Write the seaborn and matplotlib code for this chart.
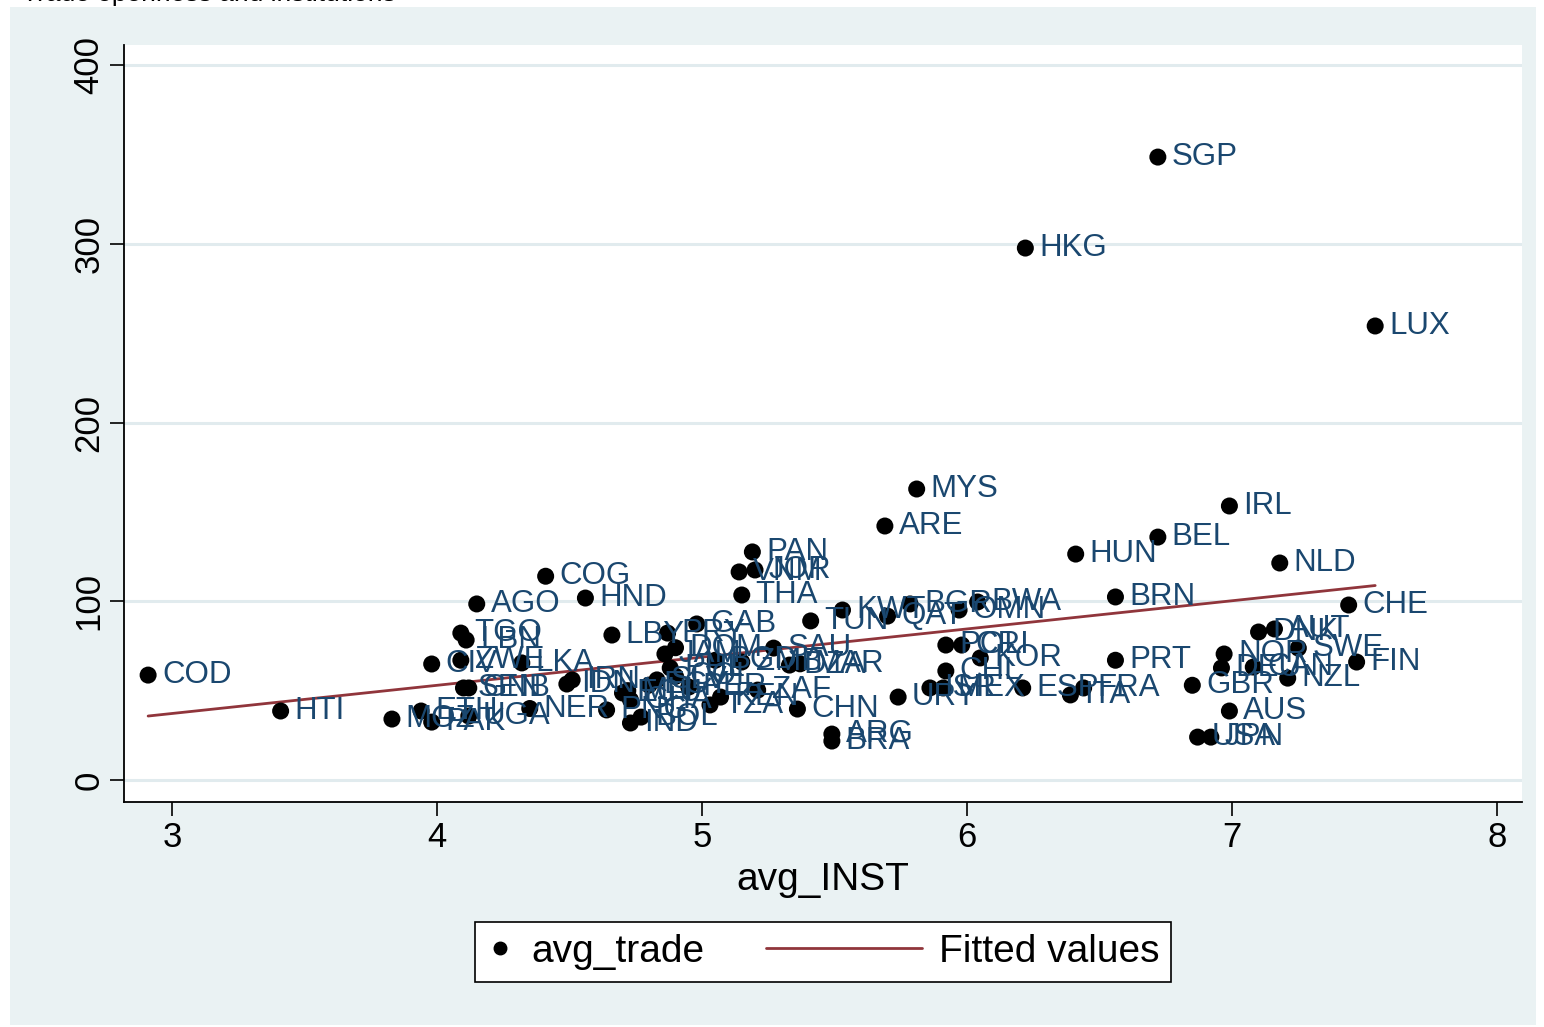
import numpy as np
import pandas as pd
import matplotlib
matplotlib.use("Agg")
import matplotlib.pyplot as plt
import seaborn as sns
from matplotlib.patches import Rectangle
from matplotlib.lines import Line2D
from matplotlib.legend_handler import HandlerLine2D

# ---- data ----
countries = ["COD", "HTI", "MOZ", "ETH", "PAK", "UGA", "SEN", "GNB", "CIV", "ZWE",
             "LKA", "TGO", "LBN", "AGO", "COG", "HND", "NER", "IDN", "IRN", "LBY",
             "PRY", "GAB", "JAM", "DOM", "PHL", "EGY", "GHA", "PNG", "IND", "BOL",
             "ECU", "PER", "SLV", "MLI", "COL", "TZA", "KEN", "ZAF", "SAU", "DZA",
             "MAR", "BGD", "ZMB", "CHN", "ARG", "BRA", "URY", "ISR", "MEX", "CHL",
             "POL", "CRI", "KOR", "ESP", "ITA", "FRA", "PRT", "GBR", "AUS", "USA",
             "JPN", "NOR", "DEU", "CAN", "DNK", "AUT", "SWE", "NZL", "FIN", "CHE",
             "NLD", "IRL", "BEL", "HUN", "BRN", "SGP", "HKG", "LUX", "MYS", "ARE",
             "PAN", "VNM", "JOR", "THA", "TUN", "KWT", "QAT", "BGR", "OMN", "BWA"]
avg_inst = [2.91, 3.41, 3.83, 3.94, 3.98, 4.12, 4.10, 4.12, 3.98, 4.09,
            4.32, 4.09, 4.11, 4.15, 4.41, 4.56, 4.35, 4.49, 4.51, 4.66,
            4.87, 4.98, 4.86, 4.90, 4.88, 4.80, 4.73, 4.64, 4.73, 4.77,
            4.70, 4.95, 4.83, 4.72, 4.90, 5.03, 5.07, 5.21, 5.27, 5.33,
            5.37, 5.05, 5.15, 5.36, 5.49, 5.49, 5.74, 5.86, 5.91, 5.92,
            5.92, 5.98, 6.05, 6.21, 6.39, 6.44, 6.56, 6.85, 6.99, 6.87,
            6.92, 6.97, 6.96, 7.08, 7.10, 7.16, 7.25, 7.21, 7.47, 7.44,
            7.18, 6.99, 6.72, 6.41, 6.56, 6.72, 6.22, 7.54, 5.81, 5.69,
            5.19, 5.14, 5.20, 5.15, 5.41, 5.53, 5.70, 5.785, 5.97, 6.04]
avg_trade = [58.7, 38.6, 34.1, 38.6, 32.4, 35.8, 51.5, 51.5, 64.9, 67.0,
             65.5, 82.2, 78.3, 98.5, 114.0, 101.8, 40.0, 53.7, 56.0, 81.1,
             82.2, 87.3, 70.5, 74.0, 62.7, 53.1, 44.8, 39.2, 31.9, 35.2,
             48.7, 52.0, 56.0, 50.0, 58.0, 42.0, 46.4, 50.3, 73.8, 64.3,
             65.0, 67.0, 66.0, 39.7, 25.7, 21.8, 46.4, 51.5, 51.5, 61.0,
             75.5, 75.5, 68.3, 51.5, 47.6, 51.5, 67.0, 53.0, 38.6, 24.0,
             24.0, 70.5, 62.7, 63.2, 82.8, 84.5, 73.8, 57.0, 66.0, 97.9,
             121.4, 153.3, 135.9, 126.4, 102.4, 348.5, 297.6, 254.0, 162.8, 142.1,
             127.6, 116.4, 117.5, 103.5, 89.0, 95.1, 91.7, 98.5, 95.1, 99.6]

# fitted line
FIT_INTERCEPT = -10.1
FIT_SLOPE = 15.77

x_ticks = [3, 4, 5, 6, 7, 8]
y_ticks = [0, 100, 200, 300, 400]

df = pd.DataFrame({"country": countries, "avg_INST": avg_inst, "avg_trade": avg_trade})
fit_x = np.array([df["avg_INST"].min(), df["avg_INST"].max()])
fit_df = pd.DataFrame({"avg_INST": fit_x, "fitted": FIT_INTERCEPT + FIT_SLOPE * fit_x})

# ---- style ----
sns.set_theme(style="white")
plt.rcParams['font.family'] = ['Liberation Sans', 'DejaVu Sans']

BG = "#eaf2f3"
LABEL_COL = "#1a476f"
FIT_COL = "#90353b"


class LongLineHandler(HandlerLine2D):
    # legend line that reaches back to the left, like Stata's key
    def create_artists(self, legend, orig_handle, xdescent, ydescent,
                       width, height, fontsize, trans):
        y = height / 2 - ydescent
        line = Line2D([width - 4.0 * fontsize, width], [y, y],
                      color=orig_handle.get_color(), lw=orig_handle.get_linewidth())
        line.set_transform(trans)
        return [line]


fig = plt.figure(figsize=(15.44, 10.27), dpi=100)
fig.patch.set_facecolor("white")
fig.patches.append(Rectangle((10 / 1544, 2 / 1027), 1526 / 1544, 1018 / 1027,
                             transform=fig.transFigure, facecolor=BG,
                             edgecolor="none", zorder=-5))

ax = fig.add_axes([124 / 1544, 225 / 1027, 1398 / 1544, 757 / 1027], zorder=2)
ax.set_facecolor("white")

for yt in y_ticks:
    ax.axhline(yt, color="#e1ebee", lw=2.2, zorder=0)

sns.lineplot(data=fit_df, x="avg_INST", y="fitted", color=FIT_COL, lw=2.0,
             ax=ax, zorder=2, legend=False)
sns.scatterplot(data=df, x="avg_INST", y="avg_trade", color="black", s=150,
                edgecolor="none", ax=ax, zorder=3, legend=False)

for _, row in df.iterrows():
    ax.annotate(row["country"], (row["avg_INST"], row["avg_trade"]),
                xytext=(10, 0), textcoords="offset points", va="center",
                ha="left", fontsize=22.5, color=LABEL_COL, zorder=4)

ax.set_xlim(2.819, 8.094)
ax.set_ylim(-12.3, 411.2)
ax.set_xticks(x_ticks)
ax.set_yticks(y_ticks)
ax.tick_params(axis="both", direction="out", length=10, width=1.2,
               labelsize=25, color="black", labelcolor="black",
               bottom=True, left=True)
plt.setp(ax.get_yticklabels(), rotation=90, va="center")
ax.set_xlabel("avg_INST", fontsize=28, labelpad=6, color="black")
ax.set_ylabel("")

for side in ["top", "right"]:
    ax.spines[side].set_visible(False)
for side in ["left", "bottom"]:
    ax.spines[side].set_color("black")
    ax.spines[side].set_linewidth(1.3)

dot_handle = Line2D([], [], marker="o", color="black", lw=0, markersize=9)
fit_handle = Line2D([], [], color=FIT_COL, lw=2)
leg = fig.legend([dot_handle, fit_handle], ["avg_trade", "Fitted values"],
                 loc="center", bbox_to_anchor=(823 / 1544, 75 / 1027), ncol=2,
                 fontsize=28, frameon=True, fancybox=False, edgecolor="black",
                 handlelength=0.7, columnspacing=4.9, handletextpad=0.45,
                 borderpad=0.3, labelcolor="black",
                 handler_map={fit_handle: LongLineHandler()})
leg.get_frame().set_linewidth(1.2)
leg.get_frame().set_facecolor("white")
leg.get_frame().set_alpha(1)

# title sits mostly above the canvas, only its lower edge shows
fig.text(22 / 1544, 1.0063, "Trade openness and institutions", fontsize=19,
         va="center", ha="left", color="black")

fig.savefig("out.png", dpi=100, facecolor=fig.get_facecolor())
